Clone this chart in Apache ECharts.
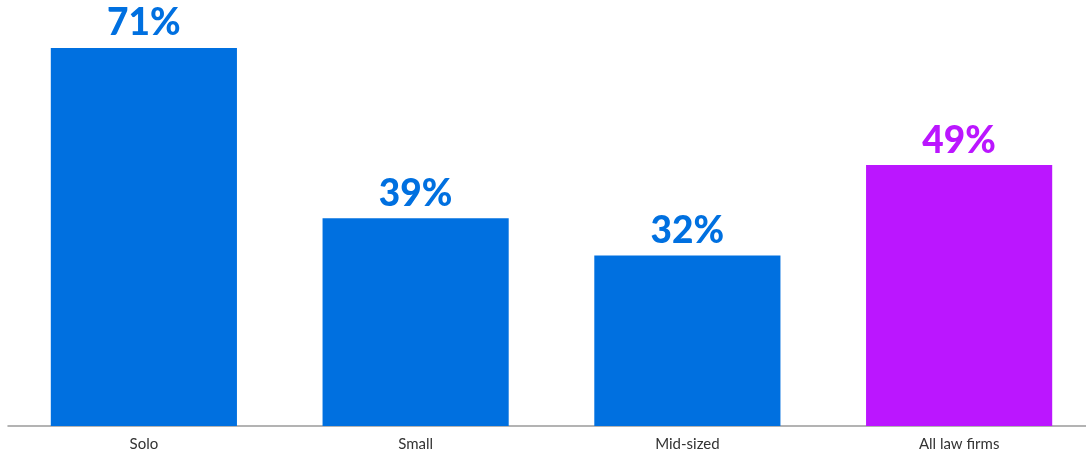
<!DOCTYPE html>
<html><head><meta charset="utf-8">
<script src="https://cdn.jsdelivr.net/npm/echarts@6/dist/echarts.min.js"></script>
<style>html,body{margin:0;padding:0;background:#fff}#c{width:1086px;height:459px}</style>
</head><body><div id="c"></div>
<script>
const categories = ["Solo", "Small", "Mid-sized", "All law firms"];
const values = [71, 39, 32, 49];
const barColors = ["#0070E0", "#0070E0", "#0070E0", "#BB16FF"];

const chart = echarts.init(document.getElementById('c'));
chart.setOption({
  animation: false,
  grid: { left: 8, width: 1087, top: 0, height: 426, outerBoundsMode: 'none', containLabel: false },
  xAxis: {
    type: 'category', data: categories,
    axisLine: { lineStyle: { color: '#9a9a9a', width: 1.5 } },
    axisTick: { show: false },
    axisLabel: { color: '#333', fontSize: 15, fontFamily: 'Lato', margin: 11 }
  },
  yAxis: { type: 'value', min: 0, max: 80, show: false, splitLine: { show: false } },
  series: [{
    type: 'bar', barCategoryGap: '31.5%',
    data: values.map((v, i) => ({ value: v, itemStyle: { color: barColors[i] },
      label: { color: barColors[i] } })),
    label: { show: true, position: 'top', distance: 6, formatter: '{c}%',
      fontSize: 37, fontWeight: 900, fontFamily: 'Lato' }
  }]
});
</script></body></html>
